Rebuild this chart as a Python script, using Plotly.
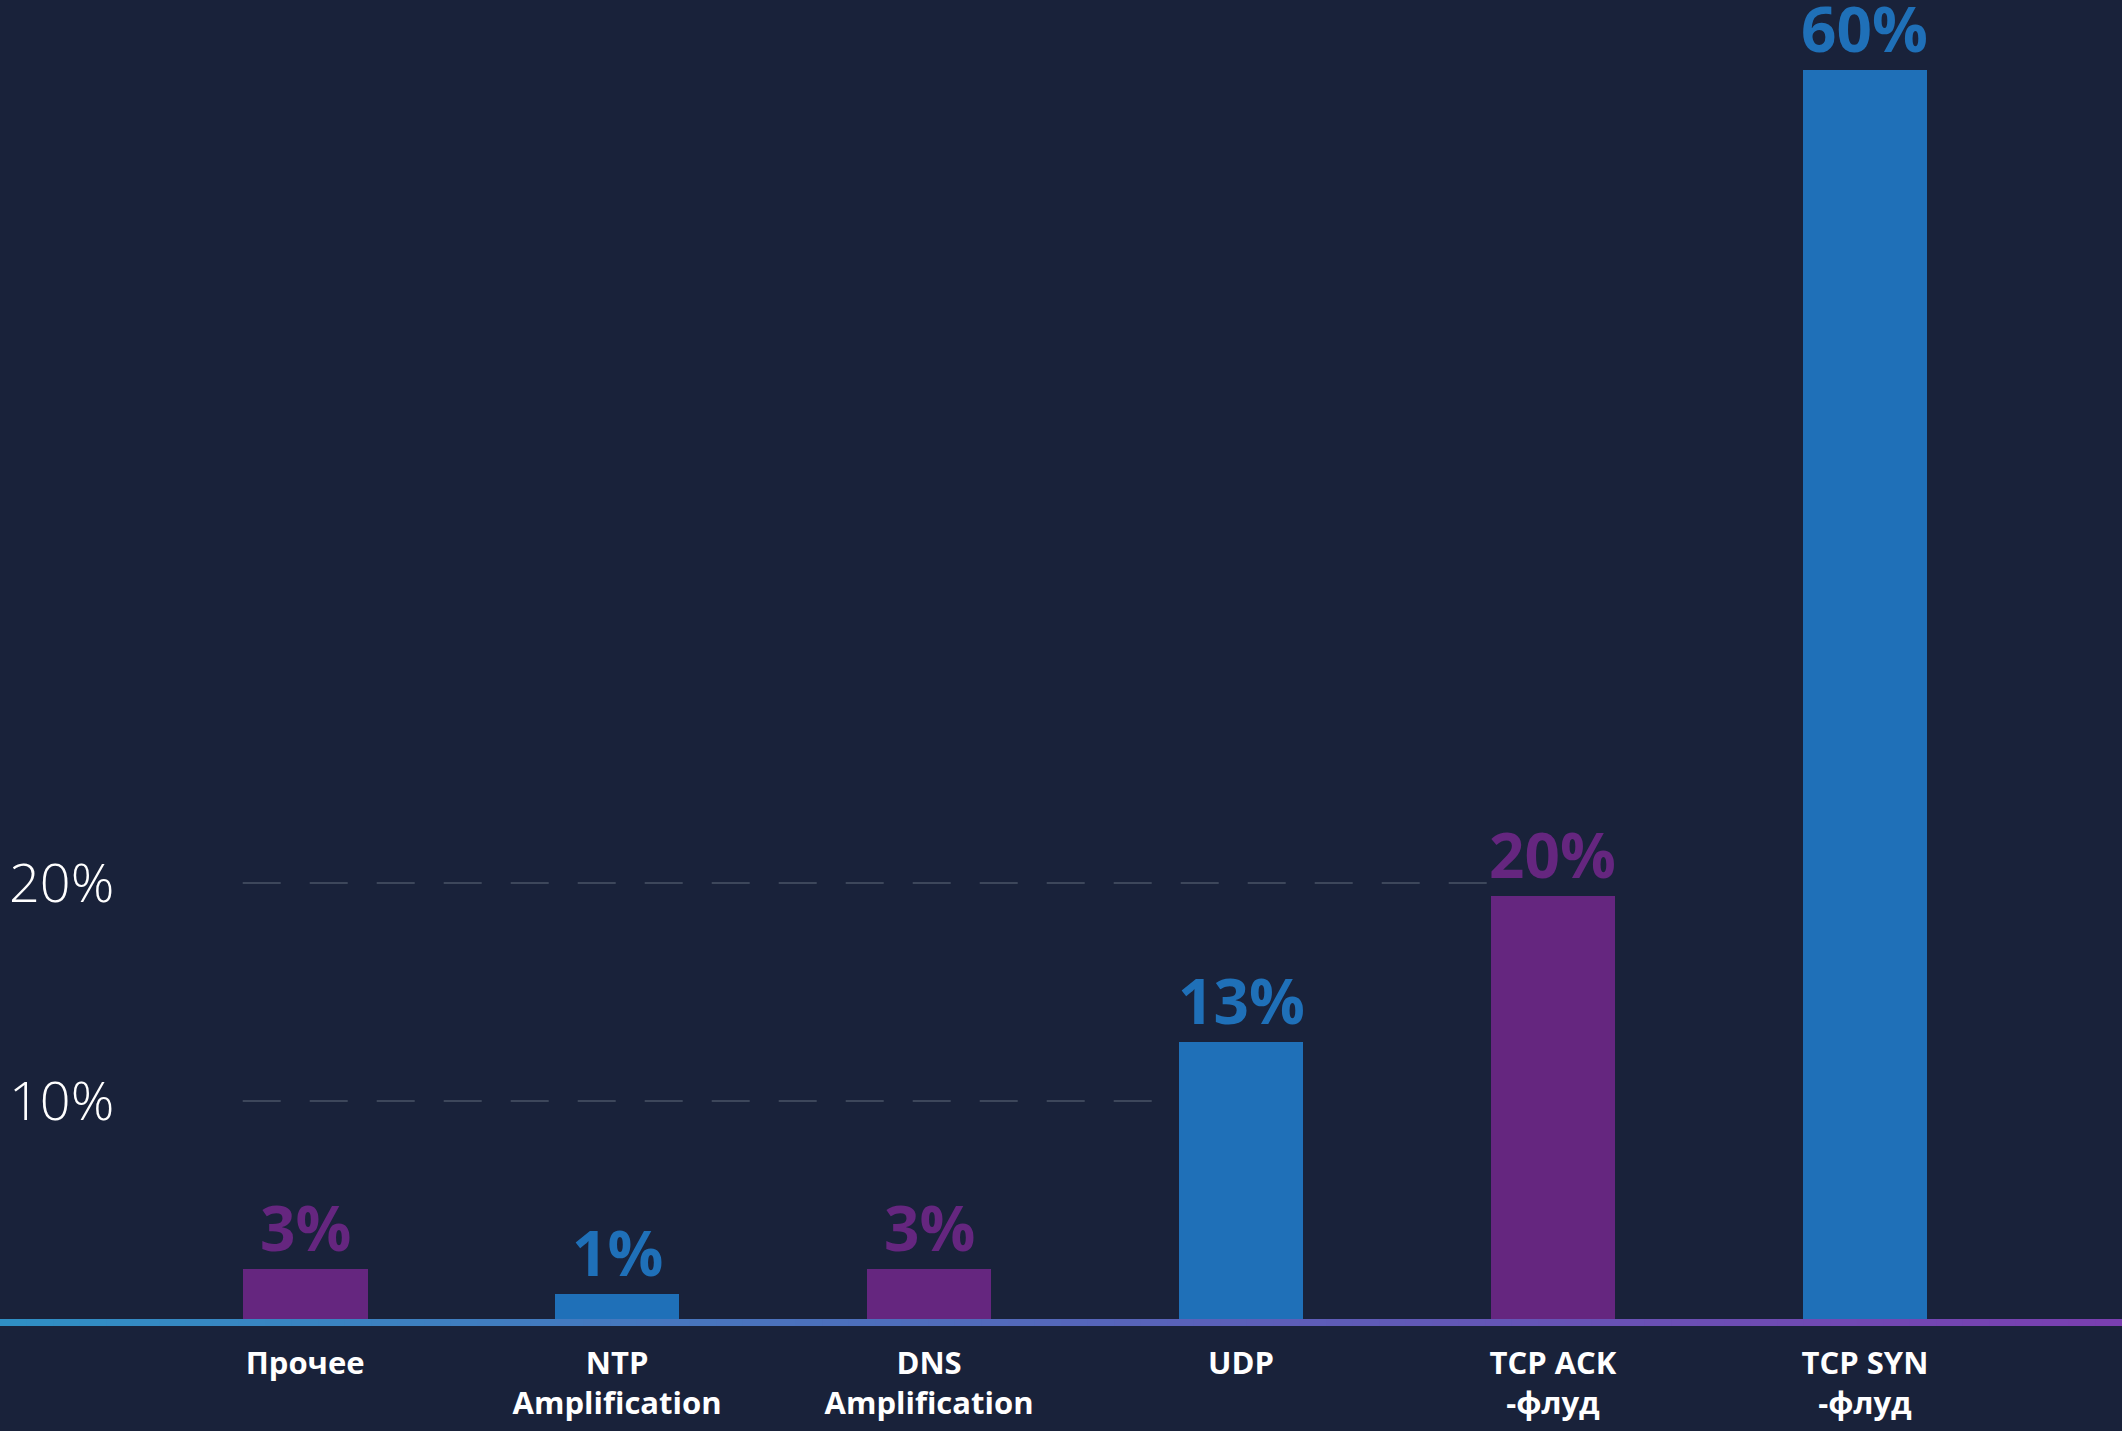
import plotly.graph_objects as go

# attack types and their shares (bar heights, labels as printed)
categories = ["Прочее", "NTP<br>Amplification", "DNS<br>Amplification", "UDP",
              "TCP ACK<br>-флуд", "TCP SYN<br>-флуд"]
values = [2.3, 1.15, 2.3, 12.7, 19.4, 57.3]
labels = ["3%", "1%", "3%", "13%", "20%", "60%"]
grid_ticks = [10, 20]
tick_text = ["10%", "20%"]

PURPLE = "#65267f"
BLUE = "#1f70b8"
BG = "#19223a"
bar_colors = [PURPLE if i % 2 == 0 else BLUE for i in range(len(values))]

fig = go.Figure()

fig.add_trace(
    go.Bar(
        x=list(range(len(categories))),
        y=values,
        width=0.4,
        marker=dict(color=bar_colors, line=dict(width=0)),
        hoverinfo="skip",
    )
)

# value labels above the bars
for i, (v, t) in enumerate(zip(values, labels)):
    fig.add_annotation(
        x=i, y=v, text=t, showarrow=False,
        yanchor="bottom", yshift=-2,
        font=dict(family="Open Sans", size=62, color=bar_colors[i], weight="bold"),
    )

# dashed guide lines stop at the first bar whose printed share reaches them
label_nums = [int(t.rstrip("%")) for t in labels]
for g in grid_ticks:
    stop = next(i for i, v in enumerate(label_nums) if v >= g)
    fig.add_shape(
        type="line", xref="x", yref="y",
        x0=-0.2, x1=stop - 0.2, y0=g, y1=g,
        line=dict(color="#4a5467", width=1.5, dash="38px,29px"),
        layer="below",
    )

# gradient baseline (teal -> purple), built from short segments
c0 = (0x2f, 0x8f, 0xc4)
c1 = (0x7a, 0x3f, 0xb0)
n = 80
for k in range(n):
    f = k / (n - 1)
    col = "rgb({},{},{})".format(*[round(a + (b - a) * f) for a, b in zip(c0, c1)])
    fig.add_shape(
        type="rect", xref="paper", yref="paper",
        x0=k / n, x1=(k + 1) / n + 0.001,
        ysizemode="pixel", yanchor=0, y0=-7, y1=0,
        fillcolor=col, line=dict(width=0), layer="above",
    )

fig.update_layout(
    width=2122,
    height=1431,
    paper_bgcolor=BG,
    plot_bgcolor=BG,
    showlegend=False,
    bargap=0,
    margin=dict(l=0, r=0, t=0, b=112),
    xaxis=dict(
        range=[-0.978, 5.824],
        tickmode="array",
        tickvals=list(range(len(categories))),
        ticktext=categories,
        tickfont=dict(family="Open Sans", size=31, color="white", weight="bold"),
        showgrid=False, zeroline=False, showline=False, ticks="",
        ticklabelstandoff=23,
    ),
    yaxis=dict(
        range=[0, 60.5],
        tickmode="array",
        tickvals=grid_ticks,
        ticktext=tick_text,
        tickfont=dict(family="Open Sans", size=54, color="white", weight=300),
        ticklabelposition="inside",
        ticklabelstandoff=6,
        showgrid=False, zeroline=False, showline=False, ticks="",
    ),
)

fig.write_html(
    "out.html",
    config={"displayModeBar": False},
    post_script="document.body.style.margin='0';document.body.style.background='%s';" % BG,
)
